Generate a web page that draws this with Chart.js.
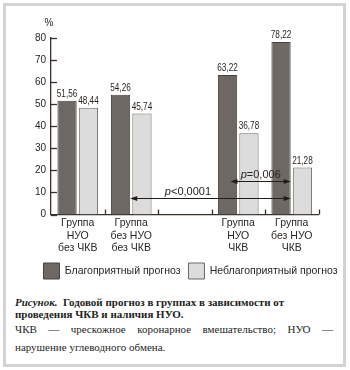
<!DOCTYPE html>
<html><head><meta charset="utf-8">
<script src="https://cdn.jsdelivr.net/npm/chart.js@4/dist/chart.umd.min.js"></script>
<style>
html,body{margin:0;padding:0;background:#fff;width:350px;height:370px;overflow:hidden;}
#frame{position:absolute;left:3px;top:3px;width:343px;height:364px;border:3px solid #d3d3d3;box-sizing:border-box;}
#wrap{position:absolute;left:0;top:0;width:350px;height:290px;}
.cap{position:absolute;left:15px;width:318px;font-family:'Liberation Serif','Times New Roman',serif;color:#231f1c;white-space:nowrap;}
.j{text-align:justify;text-align-last:justify;white-space:normal;}
</style></head><body>
<div id="frame"></div>
<div id="wrap"><canvas id="c" width="350" height="290"></canvas></div>
<div class="cap" style="top:297px;font-size:11px;font-weight:bold;line-height:11.5px"><i>Рисунок.</i>&nbsp; Годовой прогноз в группах в зависимости от<br>проведения ЧКВ и наличия НУО.</div>
<div class="cap j" style="top:323px;font-size:11px;line-height:13px">ЧКВ — чрескожное коронарное вмешательство; НУО —</div>
<div class="cap" style="top:341px;font-size:11px;line-height:13px">нарушение углеводного обмена.</div>
<script>
// ---- data ----
const categories = [
  ['Группа', 'НУО', 'без ЧКВ'],
  ['Группа', 'без НУО', 'без ЧКВ'],
  '',
  ['Группа', 'НУО', 'ЧКВ'],
  ['Группа', 'без НУО', 'ЧКВ']
];
const favorable = [51.56, 54.26, null, 63.22, 78.22];
const unfavorable = [48.44, 45.74, null, 36.78, 21.28];
const seriesNames = ['Благоприятный прогноз', 'Неблагоприятный прогноз'];
const yMin = 0, yMax = 80, yStep = 10;
const yUnit = '%';
// comparisons: category indices, level in % units, label anchor in category units
const comparisons = [
  { p: 'p', rest: '<0,0001', from: 1, to: 4, level: 7.4, labelAt: 2.06 },
  { p: 'p', rest: '=0,006', from: 3, to: 4, level: 15.3, labelAt: 3.42 }
];

const ink = '#2b2622';
const fmt = v => v.toFixed(2).replace('.', ',');

const decor = {
  id: 'decor',
  afterDatasetsDraw(chart) {
    const ctx = chart.ctx, ca = chart.chartArea;
    const ys = chart.scales.y;
    ctx.save();
    ctx.strokeStyle = '#3a302a';
    ctx.lineWidth = 1.3;
    for (let v = yMin; v <= yMax; v += yStep) {
      const y = Math.round(ys.getPixelForValue(v)) + 0.5;
      ctx.beginPath(); ctx.moveTo(ca.left, y); ctx.lineTo(ca.left + 6, y); ctx.stroke();
    }
    const n = categories.length;
    const cw = (ca.right - ca.left) / n;
    for (let i = 1; i <= n; i++) {
      const x = Math.round(ca.left + i * cw) + 0.5;
      ctx.beginPath(); ctx.moveTo(x, ca.bottom); ctx.lineTo(x, ca.bottom - 5); ctx.stroke();
    }
    ctx.fillStyle = ink;
    ctx.font = '10px "Liberation Sans", Arial, sans-serif';
    ctx.textAlign = 'center'; ctx.textBaseline = 'middle';
    ctx.fillText(yUnit, ca.left - 2, ca.top - 15);
    // value labels (condensed)
    ctx.font = '10px "Liberation Sans", Arial, sans-serif';
    ctx.textBaseline = 'alphabetic';
    chart.data.datasets.forEach((ds, di) => {
      const meta = chart.getDatasetMeta(di);
      meta.data.forEach((bar, i) => {
        const v = ds.data[i];
        if (v == null) return;
        ctx.save();
        ctx.translate(bar.x, bar.y - 4);
        ctx.scale(0.82, 1);
        ctx.fillText(fmt(v), 0, 0);
        ctx.restore();
      });
    });
    const m0 = chart.getDatasetMeta(0);
    const anchors = [0.5, 0.15];
    comparisons.forEach((c, k) => {
      const b1 = m0.data[c.from], b2 = m0.data[c.to];
      const x1 = b1.x + b1.width * anchors[k];
      const x2 = b2.x + b2.width / 2;
      const y = Math.round(ys.getPixelForValue(c.level)) + 0.5;
      ctx.strokeStyle = '#221c18'; ctx.fillStyle = '#221c18'; ctx.lineWidth = 1;
      ctx.beginPath(); ctx.moveTo(x1 + 5, y); ctx.lineTo(x2 - 5, y); ctx.stroke();
      ctx.beginPath(); ctx.moveTo(x1, y); ctx.lineTo(x1 + 7, y - 2.5); ctx.lineTo(x1 + 7, y + 2.5); ctx.closePath(); ctx.fill();
      ctx.beginPath(); ctx.moveTo(x2, y); ctx.lineTo(x2 - 7, y - 2.5); ctx.lineTo(x2 - 7, y + 2.5); ctx.closePath(); ctx.fill();
      const cx = ca.left + (c.labelAt + 0.5) * cw;
      const ty = y - 7;
      ctx.fillStyle = ink;
      ctx.font = 'italic 11px "Liberation Sans", Arial, sans-serif';
      const wp = ctx.measureText(c.p).width;
      ctx.font = '11px "Liberation Sans", Arial, sans-serif';
      const wr = ctx.measureText(c.rest).width;
      const sx = cx - (wp + wr) / 2;
      ctx.textAlign = 'left'; ctx.textBaseline = 'middle';
      ctx.font = 'italic 11px "Liberation Sans", Arial, sans-serif';
      ctx.fillText(c.p, sx, ty);
      ctx.font = '11px "Liberation Sans", Arial, sans-serif';
      ctx.fillText(c.rest, sx + wp, ty);
    });
    ctx.restore();
  }
};

new Chart(document.getElementById('c'), {
  type: 'bar',
  data: {
    labels: categories,
    datasets: [
      { label: seriesNames[0], data: favorable, backgroundColor: '#6d6864', borderColor: '#4a423c', borderWidth: 1 },
      { label: seriesNames[1], data: unfavorable, backgroundColor: '#dcdcdc', borderColor: '#6e6761', borderWidth: 1 }
    ]
  },
  options: {
    responsive: false,
    animation: false,
    events: [],
    layout: { padding: { left: 35, right: 4, top: 38, bottom: 1 } },
    datasets: { bar: { categoryPercentage: 0.8, barPercentage: 0.9 } },
    scales: {
      x: {
        grid: { display: false, drawTicks: false, tickLength: 0 },
        border: { display: true, color: '#3a302a', width: 1.3 },
        ticks: { color: ink, padding: 3, font: { family: '"Liberation Sans", Arial, sans-serif', size: 10.5, lineHeight: 1.15 }, maxRotation: 0, autoSkip: false },
        afterFit: s => { s.height = 40.5; }
      },
      y: {
        min: yMin, max: yMax,
        grid: { display: false, drawTicks: false, tickLength: 0 },
        border: { display: true, color: '#3a302a', width: 1.3 },
        ticks: { stepSize: yStep, color: ink, padding: 5, font: { family: '"Liberation Sans", Arial, sans-serif', size: 10 } },
        afterFit: s => { s.width = 16; }
      },
      yR: {
        position: 'right', display: true,
        grid: { display: false, drawTicks: false, tickLength: 0 }, border: { display: false },
        ticks: { display: false },
        afterFit: s => { s.width = 27.5; }
      }
    },
    plugins: {
      tooltip: { enabled: false },
      legend: {
        position: 'bottom',
        labels: { color: ink, boxWidth: 16, boxHeight: 16, padding: 8, font: { family: '"Liberation Sans", Arial, sans-serif', size: 10.5 } }
      }
    }
  },
  plugins: [decor]
});
</script>
</body></html>
